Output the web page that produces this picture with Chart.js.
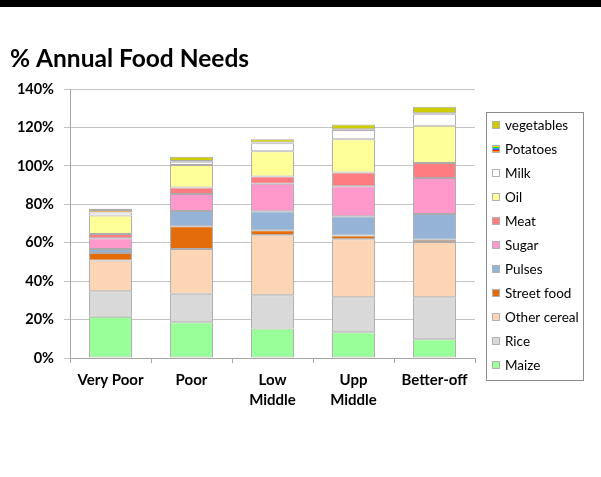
<!DOCTYPE html>
<html>
<head>
<meta charset="utf-8">
<script src="https://cdn.jsdelivr.net/npm/chart.js@4.4.1/dist/chart.umd.min.js"></script>
<style>
html,body{margin:0;padding:0;background:#fff;}
canvas{display:block;}
</style>
</head>
<body>
<canvas id="c" width="601" height="477"></canvas>
<script>
const categories = ["Very Poor", "Poor", ["Low", "Middle"], ["Upp", "Middle"], "Better-off"];
const maize       = [21.5, 18.6, 15.4, 13.4, 9.7];
const rice        = [13.2, 14.9, 17.2, 18.2, 21.9];
const otherCereal = [16.0, 23.2, 31.3, 30.2, 28.8];
const streetFood  = [4.0, 11.9, 2.6, 1.9, 1.2];
const pulses      = [2.0, 7.9, 9.9, 10.1, 13.4];
const sugar       = [5.6, 8.9, 14.3, 15.6, 18.7];
const meat        = [2.2, 3.3, 3.7, 7.1, 7.8];
const oil         = [9.6, 11.7, 13.2, 17.3, 19.4];
const milk        = [1.6, 1.8, 4.2, 4.9, 6.0];
const potatoes    = [1.3, 0.3, 0.3, 0.3, 0.5];
const vegetables  = [0.7, 2.3, 1.7, 2.5, 3.3];
const yTicks = [0, 20, 40, 60, 80, 100, 120, 140];

// rainbow stripe pattern for potatoes
const pc = document.createElement('canvas');
pc.width = 4; pc.height = 6;
const pctx = pc.getContext('2d');
['#ff3300','#ff9900','#ffee00','#33cc33','#33aaff','#3355ff'].forEach((c,i)=>{pctx.fillStyle=c;pctx.fillRect(0,i,4,1);});
const potatoPattern = pctx.createPattern(pc, 'repeat');

const series = [
  {label:'Maize', data:maize, color:'#99ff99'},
  {label:'Rice', data:rice, color:'#d9d9d9'},
  {label:'Other cereal', data:otherCereal, color:'#fcd5b5'},
  {label:'Street food', data:streetFood, color:'#e46c0a'},
  {label:'Pulses', data:pulses, color:'#95b3d7'},
  {label:'Sugar', data:sugar, color:'#ff99cc'},
  {label:'Meat', data:meat, color:'#ff7c80'},
  {label:'Oil', data:oil, color:'#ffff99'},
  {label:'Milk', data:milk, color:'#ffffff'},
  {label:'Potatoes', data:potatoes, color:potatoPattern},
  {label:'vegetables', data:vegetables, color:'#cccc00'}
];

const FONT = 'Lato, "Open Sans", sans-serif';

const decor = {
  id:'decor',
  beforeDraw(chart){
    const ctx = chart.ctx;
    ctx.save();
    ctx.fillStyle='#fff';
    ctx.fillRect(0,0,chart.width,chart.height);
    ctx.fillStyle='#000';
    ctx.fillRect(0,0,chart.width,7);
    ctx.font = 'bold 24.5px ' + FONT;
    ctx.textBaseline='alphabetic';
    ctx.textAlign='left';
    ctx.fillText('% Annual Food Needs', 10, 67);
    ctx.restore();
  },
  afterDraw(chart){
    const ctx = chart.ctx;
    ctx.save();
    ctx.strokeStyle='#8c8c8c';
    ctx.lineWidth=1;
    ctx.strokeRect(486.5,112.5,97,268);
    const ds = chart.data.datasets;
    ctx.font = '13.5px ' + FONT;
    ctx.textBaseline='middle';
    ctx.textAlign='left';
    for(let i=0;i<ds.length;i++){
      const d = ds[ds.length-1-i];
      const y = 125 + i*24;
      ctx.fillStyle = d.backgroundColor;
      ctx.fillRect(492.5, y-3.5, 7, 7);
      ctx.strokeStyle = '#b0b0b0';
      ctx.strokeRect(492.5, y-3.5, 7, 7);
      ctx.fillStyle='#000';
      ctx.fillText(d.label, 505, y+0.5);
    }
    ctx.restore();
  }
};

new Chart(document.getElementById('c'), {
  type:'bar',
  data:{
    labels:categories,
    datasets:series.map(s=>({
      label:s.label, data:s.data, backgroundColor:s.color,
      borderColor:'#ababab', borderWidth:1, borderSkipped:false,
      categoryPercentage:1, barPercentage:0.53
    }))
  },
  options:{
    responsive:false, animation:false,
    devicePixelRatio:1,
    layout:{padding:{top:89,right:126,left:0,bottom:0}},
    plugins:{legend:{display:false}, title:{display:false}, tooltip:{enabled:false}},
    scales:{
      x:{
        stacked:true,
        grid:{offset:true, drawOnChartArea:false, drawTicks:true, tickLength:5, color:'#a6a6a6'},
        border:{color:'#a6a6a6'},
        ticks:{color:'#000', font:{family:FONT, size:15, weight:'bold', lineHeight:1.33}, padding:7, maxRotation:0, autoSkip:false},
        afterFit(s){ s.height = 119; }
      },
      y:{
        stacked:true, min:0, max:140,
        afterBuildTicks(s){ s.ticks = yTicks.map(v=>({value:v})); },
        grid:{color:'#c4c4c4', tickLength:6, drawTicks:true},
        border:{color:'#a6a6a6'},
        ticks:{color:'#000', font:{family:FONT, size:14.5, weight:'bold'}, padding:10, callback:v=>v+'%'},
        afterFit(s){ s.width = 70; }
      }
    }
  },
  plugins:[decor]
});
</script>
</body>
</html>
